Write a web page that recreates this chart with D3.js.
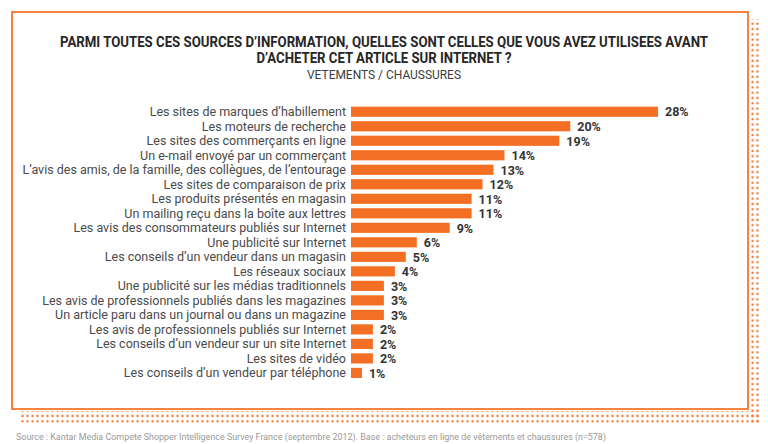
<!DOCTYPE html>
<html>
<head>
    <meta charset="utf-8">
    <title>Sources d'information - vetements / chaussures</title>
    <script src="https://d3js.org/d3.v7.min.js"></script>
    <style type="text/css">
        body { margin: 0; background: #fff; }
        .label { font-family: Roboto, "Noto Sans", sans-serif; font-size: 12.5px; fill: #4a4a4a; }
        .value { font-family: Roboto, "Noto Sans", sans-serif; font-size: 12.5px; font-weight: bold; fill: #333; }
        .title { font-family: Roboto, sans-serif; font-size: 14px; font-weight: bold; fill: #262626; }
        .subtitle { font-family: Roboto, sans-serif; font-size: 12.5px; fill: #3c3c3c; }
        .source { font-family: Roboto, sans-serif; font-size: 8.5px; fill: #9a9a9a; }
    </style>
</head>
<body>
<script type="text/javascript">
    // data
    let categories = [
        "Les sites de marques d\u2019habillement",
        "Les moteurs de recherche",
        "Les sites des commer\u00e7ants en ligne",
        "Un e-mail envoy\u00e9 par un commer\u00e7ant",
        "L\u2019avis des amis, de la famille, des coll\u00e8gues, de l\u2019entourage",
        "Les sites de comparaison de prix",
        "Les produits pr\u00e9sent\u00e9s en magasin",
        "Un mailing re\u00e7u dans la bo\u00eete aux lettres",
        "Les avis des consommateurs publi\u00e9s sur Internet",
        "Une publicit\u00e9 sur Internet",
        "Les conseils d\u2019un vendeur dans un magasin",
        "Les r\u00e9seaux sociaux",
        "Une publicit\u00e9 sur les m\u00e9dias traditionnels",
        "Les avis de professionnels publi\u00e9s dans les magazines",
        "Un article paru dans un journal ou dans un magazine",
        "Les avis de professionnels publi\u00e9s sur Internet",
        "Les conseils d\u2019un vendeur sur un site Internet",
        "Les sites de vid\u00e9o",
        "Les conseils d\u2019un vendeur par t\u00e9l\u00e9phone"
    ];
    let values = [28, 20, 19, 14, 13, 12, 11, 11, 9, 6, 5, 4, 3, 3, 3, 2, 2, 2, 1];

    let titleLines = [
        "PARMI TOUTES CES SOURCES D\u2019INFORMATION, QUELLES SONT CELLES QUE VOUS AVEZ UTILISEES AVANT",
        "D\u2019ACHETER CET ARTICLE SUR INTERNET ?"
    ];
    let subtitle = "VETEMENTS / CHAUSSURES";
    let source = "Source : Kantar Media Compete Shopper Intelligence Survey France (septembre 2012).   Base : acheteurs en ligne de v\u00eatements et chaussures (n=578)";

    let width = 768, height = 444;
    let orange = "#f36f23";

    let svg = d3.select("body").append("svg")
        .attr("width", width)
        .attr("height", height);

    // dotted shadow
    let defs = svg.append("defs");
    defs.append("pattern")
        .attr("id", "dots")
        .attr("patternUnits", "userSpaceOnUse")
        .attr("width", 5).attr("height", 5.3)
        .append("circle")
            .attr("cx", 2.5).attr("cy", 2.6).attr("r", 1.2)
            .attr("fill", "#f47a2e");

    svg.append("rect")
        .attr("x", 749).attr("y", 19).attr("width", 11).attr("height", 405)
        .attr("fill", "url(#dots)");
    svg.append("rect")
        .attr("x", 20).attr("y", 411).attr("width", 740).attr("height", 13)
        .attr("fill", "url(#dots)");

    // frame
    svg.append("rect")
        .attr("x", 12).attr("y", 12).attr("width", 736).attr("height", 397)
        .attr("fill", "#fff")
        .attr("stroke", "#f5833f")
        .attr("stroke-width", 2);

    // titles
    let titleWidths = [648, 255];
    let titleY = [47, 63];
    titleLines.forEach((t, i) => {
        svg.append("text")
            .attr("class", "title")
            .attr("x", width / 2)
            .attr("y", titleY[i])
            .attr("text-anchor", "middle")
            .attr("textLength", titleWidths[i])
            .attr("lengthAdjust", "spacingAndGlyphs")
            .text(t);
    });
    svg.append("text")
        .attr("class", "subtitle")
        .attr("x", width / 2)
        .attr("y", 79)
        .attr("text-anchor", "middle")
        .attr("textLength", 154)
        .attr("lengthAdjust", "spacingAndGlyphs")
        .text(subtitle);

    // scales
    let x = d3.scaleLinear()
        .domain([0, 28])
        .range([351, 658]);

    let step = 14.74;
    let y = d3.scaleBand()
        .domain(categories)
        .range([102.3, 102.3 + step * categories.length])
        .padding(0.3);

    let rows = svg.append("g").attr("class", "bars")
        .selectAll("g")
        .data(categories)
        .join("g");

    rows.append("rect")
        .attr("x", x(0))
        .attr("y", d => y(d))
        .attr("width", (d, i) => x(values[i]) - x(0))
        .attr("height", y.bandwidth())
        .attr("fill", orange);

    rows.append("text")
        .attr("class", "label")
        .attr("x", x(0) - 5)
        .attr("y", d => y(d) + y.bandwidth() / 2)
        .attr("dy", "0.36em")
        .attr("text-anchor", "end")
        .text(d => d);

    rows.append("text")
        .attr("class", "value")
        .attr("x", (d, i) => x(values[i]) + 7)
        .attr("y", d => y(d) + y.bandwidth() / 2)
        .attr("dy", "0.38em")
        .text((d, i) => values[i] + "%");

    svg.append("text")
        .attr("class", "source")
        .attr("x", 16)
        .attr("y", 440)
        .attr("textLength", 590)
        .attr("lengthAdjust", "spacingAndGlyphs")
        .text(source);
</script>
</body>
</html>
